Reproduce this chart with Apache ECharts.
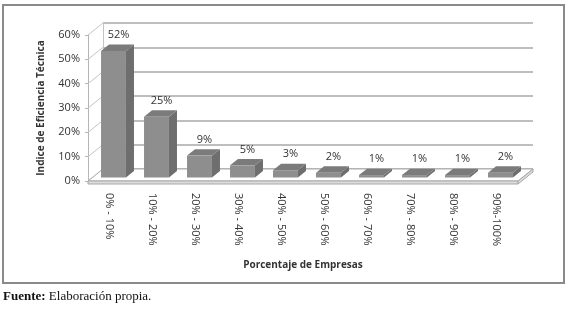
<!DOCTYPE html>
<html lang="es">
<head>
  <meta charset="UTF-8" />
  <title>Indice de Eficiencia Técnica</title>
  <script src="https://cdn.jsdelivr.net/npm/echarts@6/dist/echarts.min.js"></script>
  <style>
    html, body { margin: 0; padding: 0; background: #fff; }
    #chart { width: 569px; height: 316px; }
  </style>
</head>
<body>
  <div id="chart"></div>
  <script>
    // datos
    const categories = ['0% - 10%', '10% - 20%', '20% - 30%', '30% - 40%', '40% - 50%',
                        '50% - 60%', '60% - 70%', '70% - 80%', '80% - 90%', '90%-100%'];
    const values = [52, 25, 9, 5, 3, 2, 1, 1, 1, 2];
    const yTicks = [0, 10, 20, 30, 40, 50, 60];

    const font = '"Open Sans", "Noto Sans", sans-serif';
    const DX = 15, DY = -12;   // profundidad de las paredes

    const myChart = echarts.init(document.getElementById('chart'));

    function renderWalls(params, api) {
      const cs = params.coordSys;
      const x0 = cs.x, x1 = cs.x + cs.width;
      const yb = api.coord([0, 0])[1];
      const children = [];
      // diagonales de la pared izquierda
      yTicks.forEach(v => {
        const y = api.coord([0, v])[1];
        children.push({
          type: 'line',
          shape: { x1: x0, y1: y, x2: x0 + DX, y2: y + DY },
          style: { stroke: '#c4c4c4', lineWidth: 1 }
        });
      });
      // suelo
      children.push({
        type: 'polygon',
        shape: { points: [[x0, yb], [x1, yb], [x1 + DX, yb + DY], [x0 + DX, yb + DY]] },
        style: { fill: '#fff', stroke: '#ababab', lineWidth: 1 }
      });
      children.push({
        type: 'polygon',
        shape: { points: [[x0, yb], [x1, yb], [x1, yb + 3], [x0, yb + 3]] },
        style: { fill: '#dcdcdc', stroke: '#a8a8a8', lineWidth: 1 }
      });
      children.push({
        type: 'polygon',
        shape: { points: [[x1, yb], [x1 + DX, yb + DY], [x1 + DX, yb + DY + 3], [x1, yb + 3]] },
        style: { fill: '#dcdcdc', stroke: '#a8a8a8', lineWidth: 1 }
      });
      return { type: 'group', children: children };
    }

    function renderBar(params, api) {
      const i = api.value(0), v = api.value(1);
      const top = api.coord([i, v]);
      const base = api.coord([i, 0]);
      const bw = api.size([1, 0])[0] * 0.58;
      const x0 = top[0] - bw / 2 + 4, x1 = x0 + bw;
      const yt = top[1] - 3.5, yb = base[1] - 3.5;
      const dx = 8, dy = -6.4;
      return {
        type: 'group',
        children: [
          { type: 'polygon', shape: { points: [[x1, yb], [x1 + dx, yb + dy], [x1 + dx, yt + dy], [x1, yt]] },
            style: { fill: '#6e6e6e' } },
          { type: 'polygon', shape: { points: [[x0, yt], [x1, yt], [x1 + dx, yt + dy], [x0 + dx, yt + dy]] },
            style: { fill: '#7b7b7b' } },
          { type: 'rect', shape: { x: x0, y: yt, width: bw, height: yb - yt },
            style: { fill: '#8e8e8e' } },
          { type: 'text',
            style: { text: v + '%', x: x0 + bw / 2 + dx / 2 + 1, y: yt + dy - 4,
                     align: 'center', verticalAlign: 'bottom',
                     font: '11px ' + font, fill: '#333' } }
        ]
      };
    }

    myChart.setOption({
      animation: false,
      grid: [
        { left: 88, top: 35, width: 430, height: 146 },
        { left: 103, top: 23, width: 430, height: 146 }
      ],
      xAxis: [
        {
          gridIndex: 0,
          type: 'category',
          data: categories,
          axisLine: { show: false },
          axisTick: { show: false },
          axisLabel: { rotate: -90, margin: 12, fontSize: 11, fontFamily: font, color: '#333' },
          name: 'Porcentaje de Empresas',
          nameLocation: 'middle',
          nameGap: 79,
          nameTextStyle: { fontSize: 10, fontWeight: 'bold', fontFamily: font, color: '#333' }
        },
        { gridIndex: 1, type: 'category', data: categories, show: false }
      ],
      yAxis: [
        {
          gridIndex: 0,
          type: 'value',
          min: 0, max: 60, interval: 10,
          axisLine: { show: true, lineStyle: { color: '#b5b5b5' } },
          axisTick: { show: true, length: 3, lineStyle: { color: '#b5b5b5' } },
          splitLine: { show: false },
          axisLabel: { formatter: '{value}%', fontSize: 11, fontFamily: font, color: '#333', margin: 8 },
          name: 'Indice de Eficiencia Técnica',
          nameLocation: 'middle',
          nameGap: 42,
          nameRotate: 90,
          nameTextStyle: { fontSize: 10, fontWeight: 'bold', fontFamily: font, color: '#333' }
        },
        {
          gridIndex: 1,
          type: 'value',
          min: 0, max: 60, interval: 10,
          axisLine: { show: true, lineStyle: { color: '#c4c4c4' } },
          axisTick: { show: false },
          axisLabel: { show: false },
          splitLine: { show: true, lineStyle: { color: '#a9a9a9', width: 1.5 } }
        }
      ],
      series: [
        {
          type: 'custom',
          xAxisIndex: 0, yAxisIndex: 0,
          renderItem: renderWalls,
          data: [[0, 0]],
          z: 1,
          silent: true
        },
        {
          type: 'custom',
          xAxisIndex: 0, yAxisIndex: 0,
          renderItem: renderBar,
          data: values.map((v, i) => [i, v]),
          z: 3
        }
      ],
      graphic: [
        { type: 'rect', shape: { x: 3, y: 5, width: 561, height: 278 },
          style: { fill: 'none', stroke: '#8a8a8a', lineWidth: 2 }, z: 10 },
        { type: 'text', left: 3, top: 290,
          style: { text: '{b|Fuente:} Elaboración propia.',
                   rich: { b: { fontWeight: 'bold', fontFamily: '"Liberation Serif", serif', fontSize: 13, fill: '#111' } },
                   fontFamily: '"Liberation Serif", serif', fontSize: 13, fill: '#111' } }
      ]
    });
  </script>
</body>
</html>
